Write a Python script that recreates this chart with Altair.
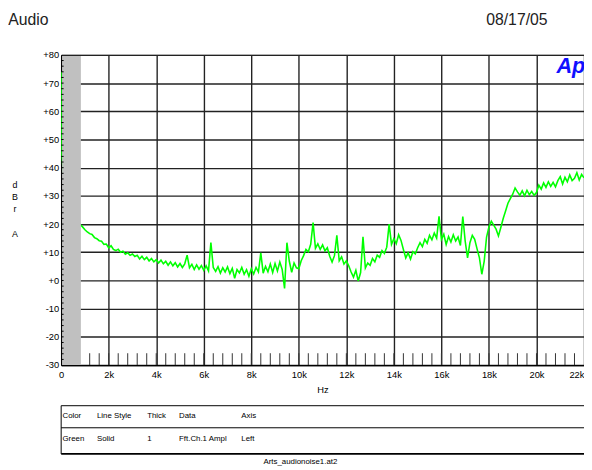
import altair as alt
import pandas as pd

# ---------------- data ----------------
title_left = "Audio"
title_right = "08/17/05"
logo_text = "Ap"
x_title = "Hz"
y_title_letters = ["d", "B", "r", "A"]
footer_text = "Arts_audionoise1.at2"

table_header = ["Color", "Line Style", "Thick", "Data", "Axis"]
table_row = ["Green", "Solid", "1", "Fft.Ch.1 Ampl", "Left"]

# FFT bin frequencies (Hz)
freq_hz = [0, 20] + list(range(100, 22001, 100))

# levels in dBrA
level_below_1k = [74, 45, 38, 33, 29, 26.5, 24.5, 22.8, 21.3, 19.8, 19.0]
level_1k_5k = [
    18.0, 17.2, 16.6, 16.3, 15.2, 14.8, 14.1, 13.9, 12.8, 12.9,
    11.6, 12.3, 11.0, 10.6, 11.1, 10.0, 10.4, 9.3, 9.8, 8.9,
    9.4, 8.5, 8.9, 7.6, 8.6, 7.4, 8.2, 6.9, 7.8, 6.6,
    7.4, 6.2, 7.2, 5.9, 6.8, 5.4, 6.6, 5.2, 6.3, 4.8,
]
level_5k_10k = [
    6.0, 4.6, 5.9, 9.0, 4.5, 5.7, 3.9, 5.5, 4.0, 5.3,
    3.6, 5.2, 3.4, 13.4, 4.6, 3.2, 4.9, 2.6, 4.5, 3.0,
    4.8, 2.4, 4.3, 0.8, 3.9, 2.7, 4.6, 2.2, 3.8, 1.5,
    4.2, 2.3, 4.6, 3.0, 9.8, 2.6, 5.0, 3.1, 5.8, 2.8,
    6.0, 3.4, 6.5, 3.9, -2.8, 13.4, 6.8, 2.9, 6.2, 4.5,
]
level_10k_15k = [
    4.2, 7.0, 8.8, 11.0, 10.2, 12.8, 20.5, 11.4, 13.0, 11.0,
    12.6, 10.5, 11.6, 8.6, 6.5, 8.8, 16.0, 7.0, 8.4, 5.8,
    7.0, 5.2, 3.0, 1.2, 3.6, -0.2, 2.8, 15.5, 4.4, 6.2,
    5.4, 7.8, 6.6, 9.0, 8.2, 10.6, 9.6, 11.8, 20.0, 12.8,
    14.8, 13.0, 16.2, 14.2, 11.0, 8.0, 9.8, 7.6, 10.2, 9.4,
]
level_15k_20k = [
    11.6, 13.4, 12.0, 14.6, 13.2, 16.0, 14.4, 16.8, 15.0, 22.7,
    14.6, 16.4, 12.8, 15.6, 13.6, 16.2, 14.0, 15.4, 12.4, 22.7,
    14.0, 8.0, 13.4, 16.0, 14.6, 11.2, 8.0, 2.2, 6.8, 15.4,
    19.0, 21.0, 19.6, 18.2, 15.8, 18.8, 22.0, 24.6, 27.4, 29.0,
    30.6, 32.8, 31.4, 30.2, 31.8, 30.0, 32.0, 30.4, 31.6, 30.2,
]
level_20k_22k = [
    31.2, 33.8, 32.4, 34.6, 33.0, 35.0, 33.4, 34.8, 33.2, 35.4,
    36.8, 34.2, 36.6, 35.0, 37.4, 35.4, 36.2, 38.2, 35.6, 37.6,
    36.4,
]
level_db = level_below_1k + level_1k_5k + level_5k_10k + level_10k_15k + level_15k_20k + level_20k_22k

x_ticks = list(range(0, 22001, 2000))
y_ticks = list(range(-30, 81, 10))
x_minor_ticks = list(range(1200, 21601, 400))
y_minor_ticks = list(range(-28, 80, 2))
band_start_hz = 40
band_end_hz = 830

FONT = "Liberation Sans"
W, H = 531, 315

# ---------------- chart ----------------
df = pd.DataFrame({"f": freq_hz, "db": level_db})

x_scale = alt.Scale(domain=[0, 22000], nice=False, zero=False)
y_scale = alt.Scale(domain=[-30, 80], nice=False, zero=False)

x_axis = alt.Axis(
    values=x_ticks,
    grid=True,
    gridColor="#222222",
    gridWidth=1.4,
    domainColor="#000000",
    domainWidth=1.2,
    ticks=False,
    labelExpr="datum.value == 0 ? '0' : (datum.value / 1000) + 'k'",
    labelFont=FONT,
    labelFontSize=9.5,
    labelColor="#000000",
    labelPadding=5,
    labelFlush=False,
    labelOverlap=False,
    labelAlign={"condition": {"test": "datum.value >= 22000", "value": "right"}, "value": "center"},
    title=None,
)
y_axis = alt.Axis(
    values=y_ticks,
    grid=True,
    gridColor="#222222",
    gridWidth=1.4,
    domainColor="#000000",
    domainWidth=1.2,
    ticks=False,
    labelExpr="(datum.value >= 0 ? '+' : '-') + abs(datum.value)",
    labelFont=FONT,
    labelFontSize=9.5,
    labelColor="#000000",
    labelPadding=2.5,
    labelFlush=False,
    labelOverlap=False,
    title=None,
)


def xenc():
    return alt.X("f:Q", scale=x_scale, axis=x_axis)


def yenc():
    return alt.Y("db:Q", scale=y_scale, axis=y_axis)


line = alt.Chart(df).mark_line(color="#00ff00", strokeWidth=1.6, clip=True).encode(
    x=xenc(), y=yenc()
)

band = alt.Chart(pd.DataFrame({"f": [band_start_hz], "f2": [band_end_hz]})).mark_rect(
    color="#c0c0c0"
).encode(
    x=xenc(),
    x2="f2",
    y=alt.value(1),
    y2=alt.value(H),
)

minor_x = alt.Chart(pd.DataFrame({"f": x_minor_ticks})).mark_rule(color="#333333", strokeWidth=1).encode(
    x=xenc(),
    y=alt.value(H - 12),
    y2=alt.value(H),
)

minor_y = alt.Chart(pd.DataFrame({"db": y_minor_ticks})).mark_rule(color="#000000", strokeWidth=1).encode(
    y=yenc(),
    x=alt.value(0),
    x2=alt.value(2.5),
)


def text(t, x, y, size=8, align="left", baseline="middle", **kw):
    return alt.Chart(pd.DataFrame({"t": [t]})).mark_text(
        font=FONT, fontSize=size, align=align, baseline=baseline, color=kw.pop("color", "#000000"), **kw
    ).encode(x=alt.value(x), y=alt.value(y), text="t:N")


texts = [
    text(title_left, -53.7, -30, size=16, baseline="alphabetic", color="#222222"),
    text(title_right, 431.7, -30, size=16, baseline="alphabetic", color="#222222"),
    text(logo_text, 503, 18, size=22, baseline="alphabetic", color="#1010ff", fontWeight="bold", fontStyle="italic"),
    text(x_title, 266, 340, size=9.5, align="center"),
    text(footer_text, 243, 414, size=8, align="center"),
]
for letter, yy in zip(y_title_letters, [132, 144.5, 157, 182]):
    texts.append(text(letter, -47, yy, size=9, align="center"))

col_x = [1.3, 36.3, 87.3, 119.7, 183]
for cx, h, r in zip(col_x, table_header, table_row):
    texts.append(text(h, cx, 367, size=8))
    texts.append(text(r, cx, 390, size=8))

table_lines = [
    alt.Chart(pd.DataFrame({"a": [0]})).mark_rule(color="#000000", strokeWidth=sw).encode(
        x=alt.value(0), x2=alt.value(545), y=alt.value(yy)
    )
    for yy, sw in [(356.3, 1), (378.7, 1), (405.3, 1.8)]
]
table_left = alt.Chart(pd.DataFrame({"a": [0]})).mark_rule(color="#000000", strokeWidth=1).encode(
    x=alt.value(0), y=alt.value(356.3), y2=alt.value(405.3)
)

chart = alt.layer(line, band, minor_x, minor_y, *table_lines, table_left, *texts).properties(
    width=W,
    height=H,
    autosize=alt.AutoSizeParams(type="none"),
    padding={"left": 54, "top": 44, "right": 0, "bottom": 105},
).configure_view(stroke="#000000", strokeWidth=1)

chart.save("out.html", embed_options={"renderer": "svg", "actions": False})
